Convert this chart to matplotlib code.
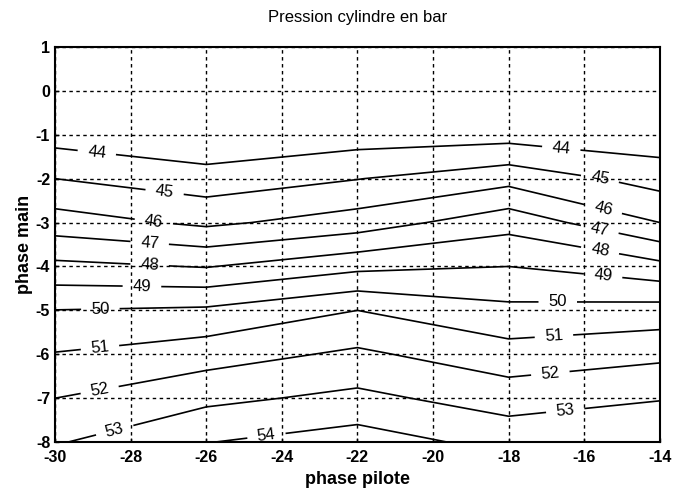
import numpy as np
import matplotlib
matplotlib.use("Agg")
import matplotlib.pyplot as plt

plt.rcParams['font.family'] = ['Liberation Sans', 'DejaVu Sans']
plt.rcParams['axes.unicode_minus'] = False

# grid of the map
phase_pilote = [-30, -26, -22, -18, -14]
phase_main = [-8, -7, -6, -5, -4, -3, -2, -1, 0, 1]

# cylinder pressure (bar), one column per pilot phase, from main = -8 up to 1
p_m30 = [52.91, 52.0, 51.05, 50.02, 48.25, 46.46, 45.0, 43.57, 42.5, 41.5]
p_m26 = [53.97, 52.76, 51.56, 50.17, 47.95, 45.80, 44.42, 43.12, 42.2, 41.3]
p_m22 = [54.5, 53.25, 52.18, 51.0, 48.74, 46.47, 44.97, 43.5, 42.5, 41.5]
p_m18 = [53.66, 52.54, 51.41, 50.24, 49.0, 47.63, 45.65, 43.6, 42.6, 41.6]
p_m14 = [53.94, 52.94, 51.77, 50.4, 48.29, 46.0, 44.6, 43.35, 42.4, 41.4]

levels = [44, 45, 46, 47, 48, 49, 50, 51, 52, 53, 54]

# where the labels sit (near each line)
label_pos = [
    (-28.9, -1.45), (-16.6, -1.25),
    (-27.1, -2.3), (-15.6, -2.1),
    (-27.4, -3.07), (-15.5, -2.7),
    (-27.5, -3.52), (-15.6, -3.2),
    (-27.5, -4.0), (-15.6, -3.73),
    (-27.7, -4.43), (-15.5, -4.2),
    (-28.8, -4.98), (-16.7, -4.75),
    (-28.8, -5.93), (-16.8, -5.6),
    (-28.8, -6.9), (-16.9, -6.4),
    (-28.4, -7.8), (-16.5, -7.3),
    (-24.4, -7.9),
]

Z = np.column_stack([p_m30, p_m26, p_m22, p_m18, p_m14])
X, Y = np.meshgrid(phase_pilote, phase_main)

fig = plt.figure(figsize=(6.75, 4.99), dpi=100)
ax = fig.add_axes([0.0815, 0.114, 0.896, 0.792])

cs = ax.contour(X, Y, Z, levels=levels, colors='black', linewidths=1.2)
ax.clabel(cs, levels, manual=label_pos, fmt='%d', inline=True,
          inline_spacing=10, fontsize=12)

ax.set_xlim(-30, -14)
ax.set_ylim(-8, 1)
ax.set_xticks(range(-30, -13, 2))
ax.set_yticks(range(-8, 2))
ax.grid(True, color='black', linestyle=(0, (2.5, 2.5)), linewidth=1)
ax.tick_params(direction='in', length=3, labelsize=11.5, width=1)
ax.tick_params(axis='x', pad=6)
for lab in ax.get_xticklabels() + ax.get_yticklabels():
    lab.set_fontweight('bold')
for sp in ax.spines.values():
    sp.set_linewidth(1.5)

ax.set_title("Pression cylindre en bar", fontsize=12, pad=18)
ax.set_xlabel("phase pilote", fontsize=13, fontweight='bold', labelpad=4)
ax.set_ylabel("phase main", fontsize=13, fontweight='bold', labelpad=2)

fig.savefig("out.png", dpi=100)
